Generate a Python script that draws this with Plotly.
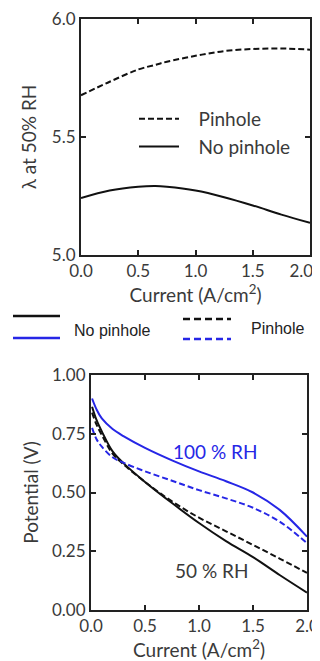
import plotly.graph_objects as go

# ---- Top panel data: lambda at 50% RH vs current ----
cur_top = [0.0, 0.25, 0.5, 0.65, 0.75, 1.0, 1.25, 1.5, 1.75, 2.0]
lam_pinhole = [5.677, 5.734, 5.786, 5.806, 5.819, 5.844, 5.864, 5.873, 5.875, 5.870]
lam_nopinhole = [5.241, 5.273, 5.289, 5.292, 5.289, 5.273, 5.245, 5.210, 5.171, 5.136]

# ---- Bottom panel data: polarization curves ----
cur_bot = [0.01, 0.05, 0.1, 0.2, 0.3, 0.5, 0.75, 1.0, 1.25, 1.5, 1.75, 2.0]
v100_nopin = [0.900, 0.855, 0.815, 0.770, 0.740, 0.690, 0.637, 0.590, 0.548, 0.500, 0.425, 0.312]
v100_pin = [0.775, 0.728, 0.695, 0.650, 0.627, 0.590, 0.550, 0.510, 0.475, 0.435, 0.375, 0.285]
v50_nopin = [0.865, 0.810, 0.760, 0.675, 0.625, 0.545, 0.455, 0.370, 0.293, 0.225, 0.148, 0.074]
v50_pin = [0.840, 0.790, 0.745, 0.665, 0.620, 0.545, 0.462, 0.393, 0.335, 0.277, 0.218, 0.158]

x_ticks = [0.0, 0.5, 1.0, 1.5, 2.0]
x_tick_text = ["0.0", "0.5", "1.0", "1.5", "2.0"]
top_y_ticks = [5.0, 5.5, 6.0]
bot_y_ticks = [0.0, 0.25, 0.5, 0.75, 1.0]

BLACK = "#111111"
BLUE = "#2626e6"
TXT = "#3a3a3a"
FONT = "Lato"
PAD = "\u00a0" * 3

fig = go.Figure()

fig.add_trace(go.Scatter(x=cur_top, y=lam_pinhole, mode="lines", name=PAD + "Pinhole",
                         line=dict(color=BLACK, width=2, dash="6px,3px", shape="spline"),
                         xaxis="x", yaxis="y"))
fig.add_trace(go.Scatter(x=cur_top, y=lam_nopinhole, mode="lines", name=PAD + "No pinhole",
                         line=dict(color=BLACK, width=2, shape="spline"),
                         xaxis="x", yaxis="y"))

for ys, col, dash in [(v50_nopin, BLACK, "solid"), (v50_pin, BLACK, "6px,3px"),
                      (v100_nopin, BLUE, "solid"), (v100_pin, BLUE, "6px,3px")]:
    fig.add_trace(go.Scatter(x=cur_bot, y=ys, mode="lines", showlegend=False,
                             line=dict(color=col, width=2, dash=dash, shape="spline"),
                             xaxis="x2", yaxis="y2"))

# page body has an 8px margin, so the figure is drawn 8px in from the window edge
OFF = 8
W, H = 320 - OFF, 661 - OFF
def px(x):
    return (x - OFF) / W
def py(y):
    return 1 - (y - OFF) / H

axis_common = dict(showline=True, linecolor="#222222", linewidth=2, mirror="ticks",
                   ticks="inside", ticklen=5, tickwidth=1.5, tickcolor="#222222",
                   showgrid=False, zeroline=False, automargin=False,
                   ticklabeloverflow="allow",
                   tickfont=dict(family=FONT, size=17, color=TXT))
TITLE_FONT = dict(family=FONT, size=19, color=TXT)

# last label of the upper axis nudged left so it stays inside the window
top_x_text = x_tick_text[:-1] + [x_tick_text[-1] + "\u00a0" * 4]

fig.update_layout(
    width=W, height=H, margin=dict(l=0, r=0, t=0, b=0, autoexpand=False),
    paper_bgcolor="white", plot_bgcolor="white",
    font=dict(family=FONT, color=TXT),
    xaxis=dict(domain=[px(81), px(310)], range=[0, 2], tickvals=x_ticks,
               ticktext=top_x_text, anchor="y",
               title=dict(text="Current (A/cm<sup>2</sup>)", font=TITLE_FONT, standoff=7),
               **axis_common),
    yaxis=dict(domain=[py(255), py(19)], range=[5.0, 6.0], tickvals=top_y_ticks,
               ticktext=["5.0", "5.5", "6.0"], anchor="x",
               title=dict(text="λ at 50% RH", font=TITLE_FONT, standoff=10),
               **axis_common),
    xaxis2=dict(domain=[px(91), px(307)], range=[0, 2], tickvals=x_ticks,
                ticktext=x_tick_text, anchor="y2",
                title=dict(text="Current (A/cm<sup>2</sup>)", font=TITLE_FONT, standoff=5),
                **axis_common),
    yaxis2=dict(domain=[py(610), py(375)], range=[0, 1.0], tickvals=bot_y_ticks,
                ticktext=["0.00", "0.25", "0.50", "0.75", "1.00"], anchor="x2",
                title=dict(text="Potential (V)", font=TITLE_FONT, standoff=8),
                **axis_common),
    legend=dict(x=px(134), y=py(100), xanchor="left", yanchor="top",
                bgcolor="rgba(0,0,0,0)", font=dict(family=FONT, size=19, color=TXT),
                itemwidth=40, tracegroupgap=0),
)

# annotations in bottom panel
fig.add_annotation(x=1.15, y=0.673, xref="x2", yref="y2", text="100 % RH", showarrow=False,
                   font=dict(family=FONT, size=19, color=BLUE))
fig.add_annotation(x=1.12, y=0.17, xref="x2", yref="y2", text="50 % RH", showarrow=False,
                   font=dict(family=FONT, size=19, color=TXT))

# middle legend (drawn in paper space)
shapes = [
    dict(x0=13, x1=60, y=316, color=BLACK, dash="solid"),
    dict(x0=13, x1=60, y=338, color=BLUE, dash="solid"),
    dict(x0=183, x1=231, y=319, color=BLACK, dash="7px,4px"),
    dict(x0=183, x1=231, y=339, color=BLUE, dash="7px,4px"),
]
for s in shapes:
    fig.add_shape(type="line", xref="paper", yref="paper",
                  x0=px(s["x0"]), x1=px(s["x1"]), y0=py(s["y"]), y1=py(s["y"]),
                  line=dict(color=s["color"], width=2.5, dash=s["dash"]))
fig.add_annotation(x=px(72), y=py(331), xref="paper", yref="paper", xanchor="left",
                   text="No pinhole", showarrow=False,
                   font=dict(family="Liberation Sans", size=16, color="#222222"))
fig.add_annotation(x=px(249), y=py(328), xref="paper", yref="paper", xanchor="left",
                   text="Pinhole", showarrow=False,
                   font=dict(family="Liberation Sans", size=16, color="#222222"))

fig.write_html("out.html")
